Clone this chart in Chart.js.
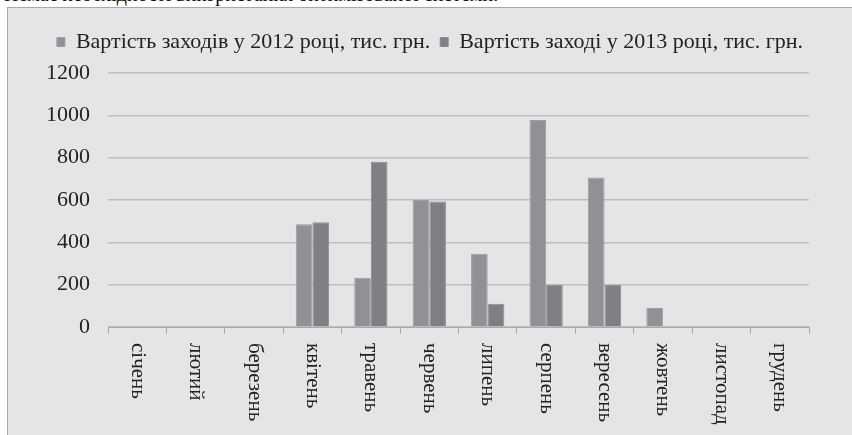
<!DOCTYPE html>
<html>
<head>
<meta charset="utf-8">
<script src="https://cdn.jsdelivr.net/npm/chart.js@4"></script>
<style>
  body { margin: 0; background: #fff; width: 852px; height: 435px; overflow: hidden; position: relative; }
  #caption { position: absolute; left: 4px; top: -17px; font: 20px "Liberation Serif", serif; color: #111; white-space: nowrap; }
  #box { position: absolute; left: 7px; top: 7px; width: 845px; height: 428px; background: #e4e5e7;
         border-left: 1px solid #a8a8a8; border-top: 1px solid #a8a8a8; box-sizing: border-box; }
</style>
</head>
<body>
<div id="caption">Немає необхідності використання оптимізованої системи.</div>
<div id="box"><canvas id="myChart" width="844" height="427"></canvas></div>
<script>
var months = ['січень', 'лютий', 'березень', 'квітень', 'травень', 'червень', 'липень', 'серпень', 'вересень', 'жовтень', 'листопад', 'грудень'];
var costs2012 = [0, 0, 0, 485, 233, 600, 346, 978, 706, 90, 0, 0];
var costs2013 = [0, 0, 0, 495, 780, 593, 110, 200, 200, 0, 0, 0];
var yTicks = [0, 200, 400, 600, 800, 1000, 1200];

var c = document.getElementById("myChart");
var ctx = c.getContext("2d");

// labels in the reference read top-to-bottom, so draw them ourselves
var downLabels = {
    id: 'downLabels',
    afterDraw: function (chart) {
        var x = chart.scales.x;
        var g = chart.ctx;
        g.save();
        g.font = '21px "Liberation Serif", serif';
        g.fillStyle = '#222';
        g.textAlign = 'left';
        g.textBaseline = 'middle';
        months.forEach(function (m, i) {
            g.save();
            g.translate(x.getPixelForTick(i), x.top + 16);
            g.rotate(Math.PI / 2);
            g.fillText(m, 0, 0);
            g.restore();
        });
        g.restore();
    }
};

var chart = new Chart(ctx, {
    type: 'bar',
    data: {
        labels: months,
        datasets: [{
            label: 'Вартість заходів у 2012 році, тис. грн.',
            backgroundColor: '#909195',
            borderColor: '#9d9ea2',
            borderWidth: 1,
            data: costs2012
        }, {
            label: 'Вартість заході у 2013 році, тис. грн.',
            backgroundColor: '#7f8084',
            borderColor: '#8c8d91',
            borderWidth: 1,
            data: costs2013
        }]
    },
    options: {
        responsive: false,
        animation: false,
        devicePixelRatio: 1,
        layout: { padding: { left: 0, right: 0, top: 13, bottom: 0 } },
        datasets: { bar: { barPercentage: 1, categoryPercentage: 0.57 } },
        plugins: {
            tooltip: { enabled: false },
            legend: {
                labels: {
                    font: { family: '"Liberation Serif", serif', size: 22 },
                    color: '#222',
                    boxWidth: 8,
                    boxHeight: 9,
                    padding: 10
                }
            }
        },
        scales: {
            x: {
                grid: { drawOnChartArea: false, color: '#a9aaac', tickLength: 7 },
                border: { color: '#a9aaac' },
                ticks: { display: false },
                afterFit: function (s) { s.height = 108; }
            },
            y: {
                min: 0,
                max: 1247,
                afterBuildTicks: function (s) { s.ticks = yTicks.map(function (v) { return { value: v }; }); },
                grid: { color: '#bdbec0', lineWidth: 1.5, drawTicks: false },
                border: { display: false },
                ticks: {
                    font: { family: '"Liberation Serif", serif', size: 22 },
                    color: '#222',
                    padding: 18,
                    callback: function (v) { return String(v); }
                },
                afterFit: function (s) { s.width = 100; }
            },
            // empty right-hand spacer so the legend stays centred on the whole box
            yRight: {
                position: 'right',
                grid: { display: false },
                border: { display: false },
                ticks: { display: false },
                afterFit: function (s) { s.width = 43; }
            }
        }
    },
    plugins: [downLabels]
});
</script>
</body>
</html>
